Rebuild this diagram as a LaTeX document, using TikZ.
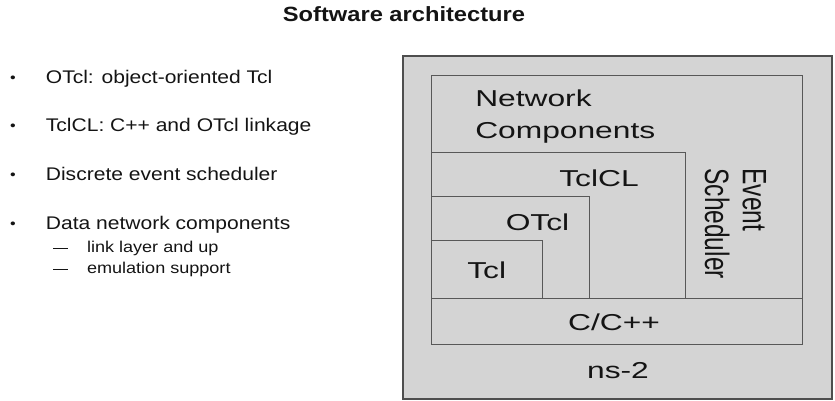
\documentclass[tikz,border=0pt]{standalone}
\usepackage{fontspec}
\setmainfont{Liberation Sans}
\usetikzlibrary{positioning}
\definecolor{ink}{RGB}{20,20,20}
\definecolor{boxfill}{RGB}{212,212,212}
\definecolor{boxline}{RGB}{88,88,88}
\definecolor{frameline}{RGB}{78,78,78}
\tikzset{
  layer/.style={draw=boxline, line width=0.9pt},
  frame/.style={draw=frameline, fill=boxfill, line width=1.8pt},
  lbl/.style={font=\fontsize{23}{27}\selectfont, text=ink, inner sep=0pt,
    xscale=1.38, transform shape},
  title/.style={font=\fontsize{20.6}{24}\selectfont\bfseries, text=ink, inner sep=0pt,
    anchor=base, xscale=1.15, transform shape},
  item/.style={font=\fontsize{18.3}{22}\selectfont, text=ink, inner sep=0pt,
    anchor=base west, xscale=1.15, transform shape},
  subitem/.style={font=\fontsize{15.7}{19}\selectfont, text=ink, inner sep=0pt,
    anchor=base west, xscale=1.15, transform shape},
}
\newcommand{\bul}{\makebox[31pt][l]{\fontsize{14}{14}\selectfont\raisebox{1.2pt}{•}}}
\newcommand{\dsh}{\makebox[29.4pt][l]{\rule[3.3pt]{13pt}{0.9pt}}}

\begin{document}
\begin{tikzpicture}[x=1pt, y=-1pt]
  \useasboundingbox (0,0) rectangle (835,401);
  % title
  \node[title] (head) at (404,21.7) {Software architecture};
  % bullet list
  \node[item] (b1) at (10,83.3) {\bul OTcl: object-oriented Tcl};
  \node[item] (b2) at (10,131.7) {\bul TclCL: C++ and OTcl linkage};
  \node[item] (b3) at (10,180.7) {\bul Discrete event scheduler};
  \node[item] (b4) at (10,229.3) {\bul Data network components};
  \node[subitem] (s1) at (53,252) {\dsh link layer and up};
  \node[subitem] (s2) at (53,273) {\dsh emulation support};
  % layered boxes
  \draw[frame] (403,56) rectangle (832,399);
  \draw[layer] (431,75) rectangle (802,298);
  \draw[layer] (431,298) rectangle (802,344);
  \draw[layer] (431,152) rectangle (685,298);
  \draw[layer] (431,196) rectangle (589,298);
  \draw[layer] (431,240) rectangle (542,298);
  \node[lbl, font=\fontsize{23}{31.6}\selectfont, anchor=base west, align=left] (netc)
       at (475,138.3) {Network\\Components};
  \node[lbl, anchor=base] (tclcl) at (599,186) {TclCL};
  \node[lbl, anchor=base] (otcl) at (537.5,230) {OTcl};
  \node[lbl, anchor=base] (tcl) at (486.7,278) {Tcl};
  \node[lbl, font=\fontsize{24.5}{27.5}\selectfont, rotate=-90, anchor=base west, align=left]
       (sched) at (705,168.3) {Event\\Scheduler};
  \node[lbl, anchor=base] (cpp) at (614,330) {C/C++};
  \node[lbl, anchor=base] (ns) at (618,378) {ns-2};
\end{tikzpicture}
\end{document}
